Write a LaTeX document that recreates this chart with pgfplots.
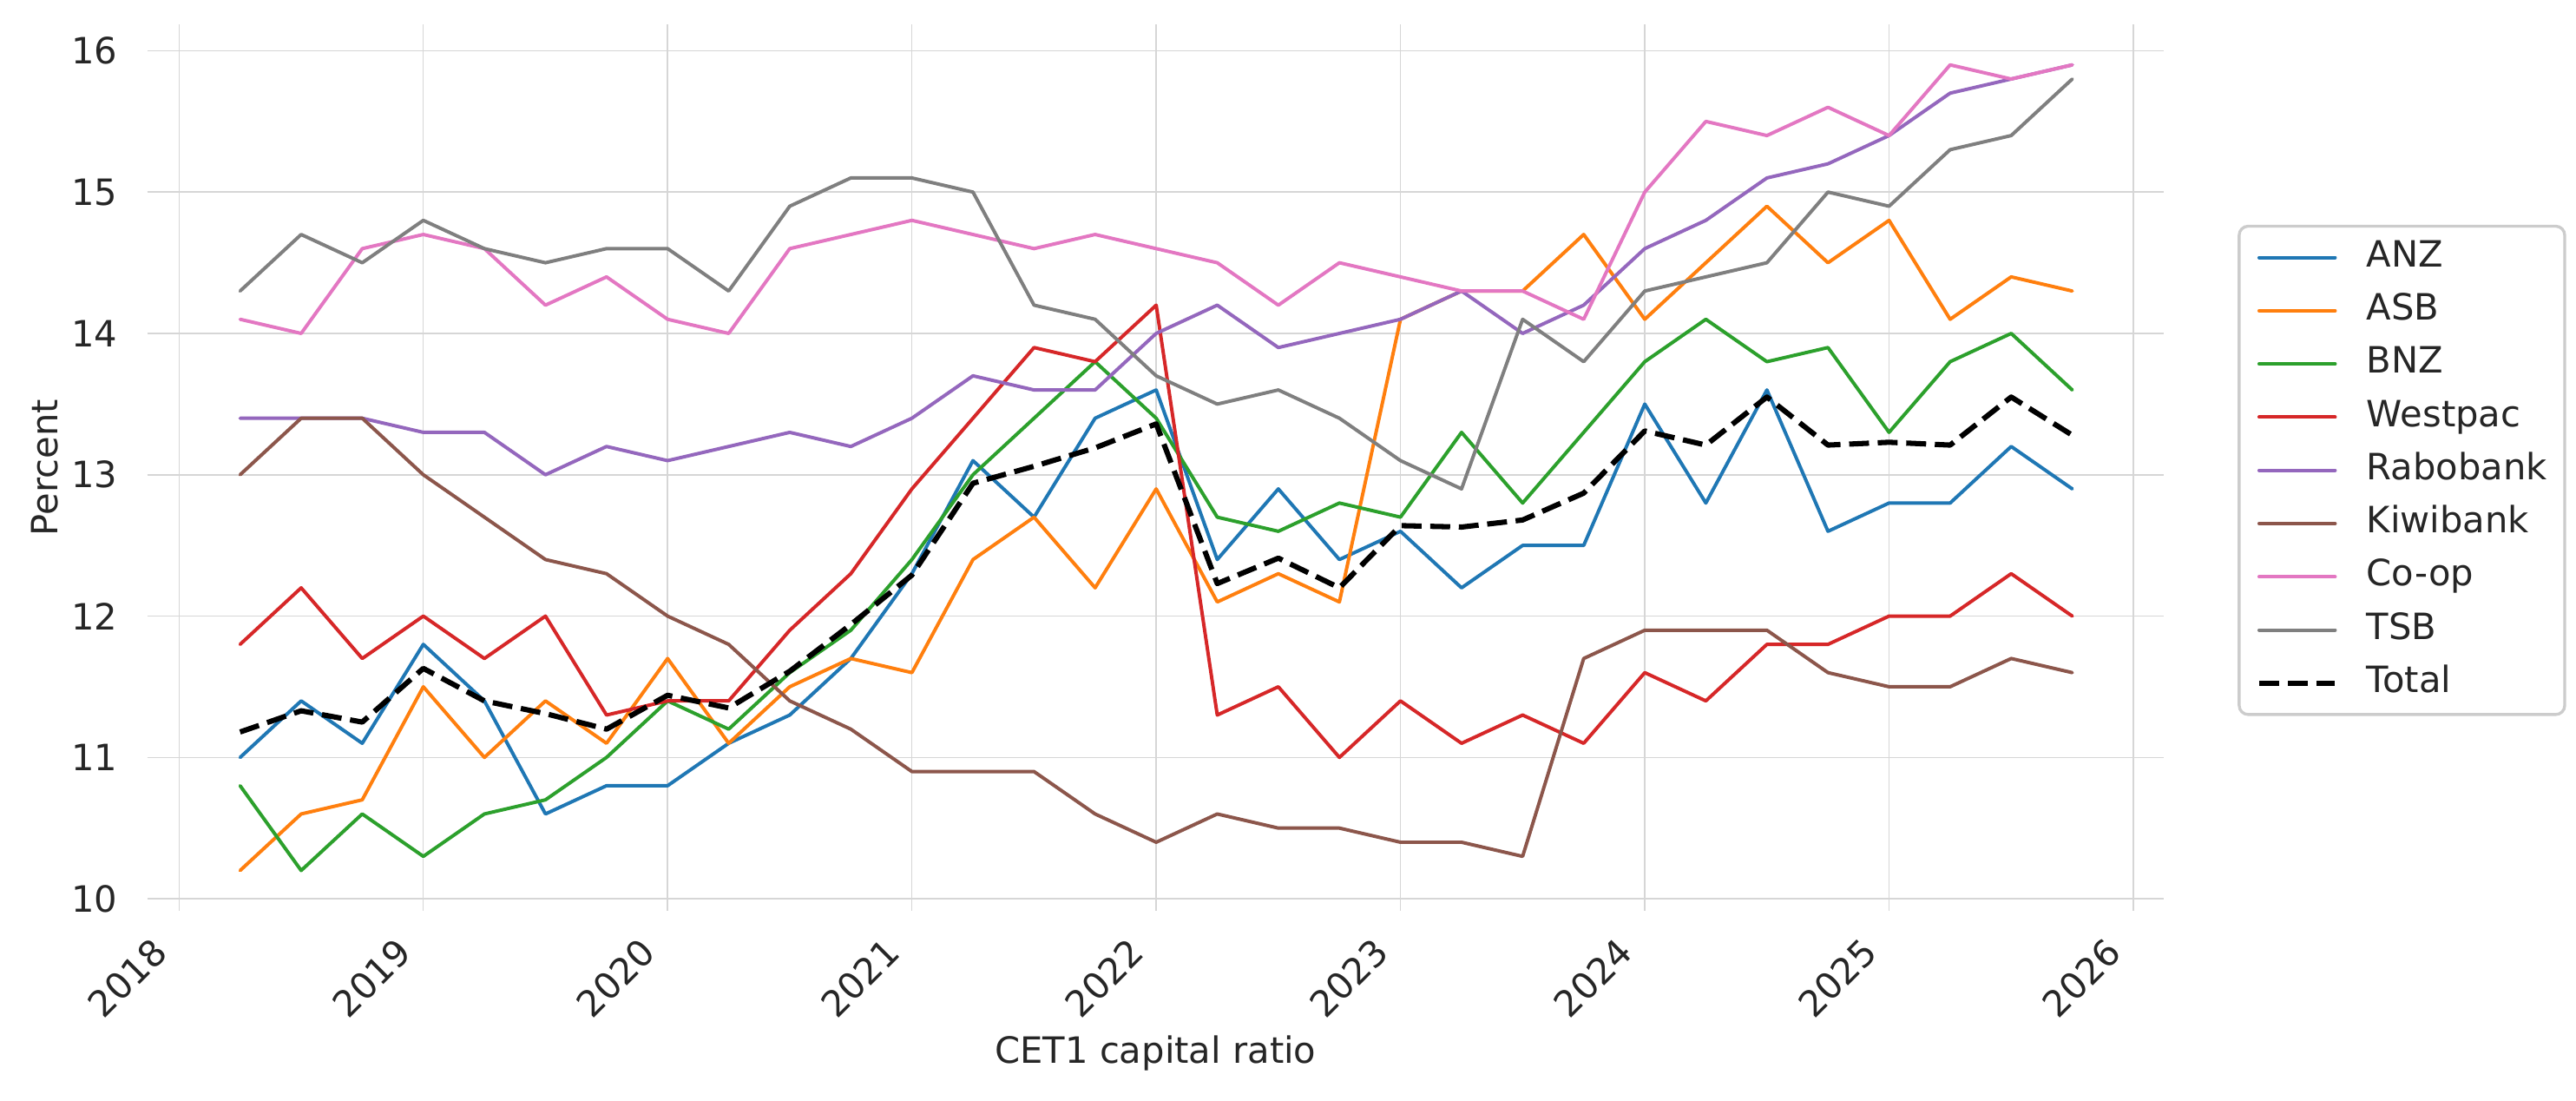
\documentclass[border=0pt]{standalone}
\usepackage{fontspec}
\setmainfont{DejaVu Sans}
\usepackage{graphicx}
\usepackage{pgfplots}
\pgfplotsset{compat=1.18}
\usepackage{pgfplotstable}

\definecolor{tabblue}{HTML}{1F77B4}
\definecolor{taborange}{HTML}{FF7F0E}
\definecolor{tabgreen}{HTML}{2CA02C}
\definecolor{tabred}{HTML}{D62728}
\definecolor{tabpurple}{HTML}{9467BD}
\definecolor{tabbrown}{HTML}{8C564B}
\definecolor{tabpink}{HTML}{E377C2}
\definecolor{tabgray}{HTML}{7F7F7F}
\definecolor{txt}{HTML}{262626}
\definecolor{gridc}{HTML}{D6D6D6}
\definecolor{legc}{HTML}{CCCCCC}

% CET1 capital ratio, percent, quarterly
\pgfplotstableread{
date    anz  asb  bnz  wbc  rabo kiwi coop tsb  total
2018.25 11.0 10.2 10.8 11.8 13.4 13.0 14.1 14.3 11.18
2018.50 11.4 10.6 10.2 12.2 13.4 13.4 14.0 14.7 11.33
2018.75 11.1 10.7 10.6 11.7 13.4 13.4 14.6 14.5 11.25
2019.00 11.8 11.5 10.3 12.0 13.3 13.0 14.7 14.8 11.63
2019.25 11.4 11.0 10.6 11.7 13.3 12.7 14.6 14.6 11.40
2019.50 10.6 11.4 10.7 12.0 13.0 12.4 14.2 14.5 11.31
2019.75 10.8 11.1 11.0 11.3 13.2 12.3 14.4 14.6 11.20
2020.00 10.8 11.7 11.4 11.4 13.1 12.0 14.1 14.6 11.44
2020.25 11.1 11.1 11.2 11.4 13.2 11.8 14.0 14.3 11.35
2020.50 11.3 11.5 11.6 11.9 13.3 11.4 14.6 14.9 11.61
2020.75 11.7 11.7 11.9 12.3 13.2 11.2 14.7 15.1 11.94
2021.00 12.3 11.6 12.4 12.9 13.4 10.9 14.8 15.1 12.29
2021.25 13.1 12.4 13.0 13.4 13.7 10.9 14.7 15.0 12.94
2021.50 12.7 12.7 13.4 13.9 13.6 10.9 14.6 14.2 13.06
2021.75 13.4 12.2 13.8 13.8 13.6 10.6 14.7 14.1 13.19
2022.00 13.6 12.9 13.4 14.2 14.0 10.4 14.6 13.7 13.36
2022.25 12.4 12.1 12.7 11.3 14.2 10.6 14.5 13.5 12.23
2022.50 12.9 12.3 12.6 11.5 13.9 10.5 14.2 13.6 12.41
2022.75 12.4 12.1 12.8 11.0 14.0 10.5 14.5 13.4 12.20
2023.00 12.6 14.1 12.7 11.4 14.1 10.4 14.4 13.1 12.64
2023.25 12.2 14.3 13.3 11.1 14.3 10.4 14.3 12.9 12.63
2023.50 12.5 14.3 12.8 11.3 14.0 10.3 14.3 14.1 12.68
2023.75 12.5 14.7 13.3 11.1 14.2 11.7 14.1 13.8 12.87
2024.00 13.5 14.1 13.8 11.6 14.6 11.9 15.0 14.3 13.31
2024.25 12.8 14.5 14.1 11.4 14.8 11.9 15.5 14.4 13.21
2024.50 13.6 14.9 13.8 11.8 15.1 11.9 15.4 14.5 13.55
2024.75 12.6 14.5 13.9 11.8 15.2 11.6 15.6 15.0 13.21
2025.00 12.8 14.8 13.3 12.0 15.4 11.5 15.4 14.9 13.23
2025.25 12.8 14.1 13.8 12.0 15.7 11.5 15.9 15.3 13.21
2025.50 13.2 14.4 14.0 12.3 15.8 11.7 15.8 15.4 13.55
2025.75 12.9 14.3 13.6 12.0 15.9 11.6 15.9 15.8 13.28
}\cetone

\begin{document}
\begin{tikzpicture}
\path[use as bounding box] (-40.7pt,-52.5pt) rectangle (671.2pt,251.6pt);
\begin{axis}[
    at={(0,0)}, anchor=south west,
    scale only axis,
    width=557.3pt, height=244.8pt,
    xmin=2017.87, xmax=2026.125,
    ymin=9.915, ymax=16.185,
    axis line style={draw=none},
    major tick length=0pt,
    grid=major,
    major grid style={gridc, line width=0.35pt},
    xtick={2018,2019,2020,2021,2022,2023,2024,2025,2026},
    xticklabels={\rotatebox{45}{\strut 2018},\rotatebox{45}{\strut 2019},\rotatebox{45}{\strut 2020},
        \rotatebox{45}{\strut 2021},\rotatebox{45}{\strut 2022},\rotatebox{45}{\strut 2023},
        \rotatebox{45}{\strut 2024},\rotatebox{45}{\strut 2025},\rotatebox{45}{\strut 2026}},
    ytick={10,11,12,13,14,15,16},
    yticklabels={10,11,12,13,14,15,16},
    xticklabel style={anchor=north east, inner sep=0pt, yshift=-6pt, text=txt, font=\fontsize{10}{12}\selectfont},
    yticklabel style={anchor=east, inner sep=0pt, xshift=-8pt, text=txt, font=\fontsize{10}{12}\selectfont},
    xlabel={CET1 capital ratio},
    ylabel={Percent},
    xlabel style={at={(axis description cs:0.5,-0.161)}, anchor=center, text=txt, font=\fontsize{10}{12}\selectfont},
    ylabel style={at={(axis description cs:-0.051,0.5)}, anchor=center, text=txt, font=\fontsize{10}{12}\selectfont},
    legend cell align=left,
    legend image code/.code={\draw[#1] (0pt,0pt) -- (21pt,0pt);},
    legend style={at={(1.0366,0.497)}, anchor=west,
        draw=legc, line width=0.8pt, rounded corners=2.5pt, fill=white,
        inner xsep=4.8pt, inner ysep=3.9pt,
        row sep=5.2pt, column sep=8pt,
        font=\fontsize{10}{12}\selectfont, text=txt,
        nodes={inner sep=0pt, text height=7.3pt, text depth=2.2pt, anchor=west}},
    every axis plot/.append style={line width=0.95pt, line join=round, line cap=round},
]
\addplot[tabblue] table[x=date, y=anz] {\cetone};
\addplot[taborange] table[x=date, y=asb] {\cetone};
\addplot[tabgreen] table[x=date, y=bnz] {\cetone};
\addplot[tabred] table[x=date, y=wbc] {\cetone};
\addplot[tabpurple] table[x=date, y=rabo] {\cetone};
\addplot[tabbrown] table[x=date, y=kiwi] {\cetone};
\addplot[tabpink] table[x=date, y=coop] {\cetone};
\addplot[tabgray] table[x=date, y=tsb] {\cetone};
\addplot[black, line width=1.45pt, line cap=butt, dash pattern=on 5.5pt off 2.4pt] table[x=date, y=total] {\cetone};
\legend{ANZ,ASB,BNZ,Westpac,Rabobank,Kiwibank,Co-op,TSB,Total}
\end{axis}
\end{tikzpicture}
\end{document}
